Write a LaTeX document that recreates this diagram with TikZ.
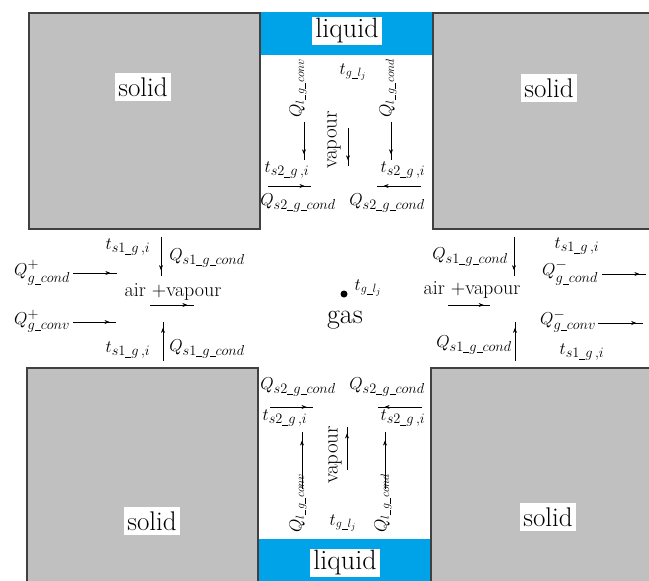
\documentclass[tikz,border=0pt]{standalone}
\usepackage{amsmath}
\usetikzlibrary{arrows.meta,decorations.markings}
\definecolor{solidgray}{RGB}{192,192,192}
\definecolor{edgegray}{RGB}{64,64,64}
\definecolor{liquidblue}{RGB}{0,162,232}
\newcommand{\us}{\text{\rule[-0.12em]{0.45em}{0.05em}}}
\begin{document}
\begin{tikzpicture}[x=1pt,y=-1pt,
 solidbox/.style={fill=solidgray,draw=edgegray,line width=1.2pt},
 liquidbox/.style={fill=liquidblue},
 biglabel/.style={fill=white,inner xsep=3pt,inner ysep=5pt,font=\fontsize{27}{29}\selectfont},
 liqlabel/.style={fill=white,inner xsep=3pt,inner ysep=2pt,font=\fontsize{28}{30}\selectfont},
 lab/.style={inner sep=0pt,font=\fontsize{19}{22}\selectfont},
 slab/.style={inner sep=0pt,font=\fontsize{18}{20}\selectfont},
 rlab/.style={inner sep=0pt,font=\fontsize{18}{20}\selectfont,rotate=90},
 vlab/.style={inner sep=0pt,font=\fontsize{21}{24}\selectfont,rotate=90},
 avlab/.style={inner sep=0pt,font=\fontsize{20}{22}\selectfont},
 flow/.style={line width=0.6pt,postaction={decorate},
   decoration={markings,mark=at position 0.85 with {\arrow{Stealth[length=5pt,width=4pt]}}}}
]
\useasboundingbox (0,0) rectangle (649,581);
% solids and liquids
\draw[solidbox] (29,13) rectangle (260,229);
\draw[solidbox] (433,13) rectangle (653,229);
\draw[solidbox] (27,368) rectangle (258,585);
\draw[solidbox] (431,368) rectangle (653,585);
\fill[liquidbox] (260.6,12.4) rectangle (432.4,55);
\fill[liquidbox] (258.6,539) rectangle (430.4,585);

\node[liqlabel] (liqT) at (347,31) {liquid};
\node[liqlabel] (liqB) at (345,563) {liquid};
\node[biglabel] (solTL) at (143,87) {solid};
\node[biglabel] (solTR) at (549,88) {solid};
\node[biglabel] (solBL) at (152,521) {solid};
\node[biglabel] (solBR) at (548,517) {solid};

% centre
\node[inner sep=0pt,font=\fontsize{28}{30}\selectfont] (gas) at (345,320) {gas};
\node[circle,fill,inner sep=0pt,minimum size=7pt] (dot) at (344,294) {};
\node[slab] (tgc) at (368,288) {$t_{g\us l_j}$};

% top channel
\node[rlab] (QlconvT) at (298,88) {$Q_{l\us g\us conv}$};
\node[slab] (tglT) at (353,72) {$t_{g\us l_j}$};
\node[vlab] (vapT) at (334,140) {vapour};
\node[rlab] (QlcondT) at (388,88) {$Q_{l\us g\us cond}$};
\coordinate (t1a) at (304,122); \coordinate (t1b) at (304,160);
\coordinate (t2a) at (348,128); \coordinate (t2b) at (348,166);
\coordinate (t3a) at (391,122); \coordinate (t3b) at (391,160);
\draw[flow] (t1a) -- (t1b);
\draw[flow] (t2a) -- (t2b);
\draw[flow] (t3a) -- (t3b);
\node[lab] (ts2TL) at (287,170) {$t_{s2\us g\,,i}$};
\node[lab] (ts2TR) at (403,170) {$t_{s2\us g\,,i}$};
\coordinate (t4a) at (268,186); \coordinate (t4b) at (311,186);
\coordinate (t5a) at (421,186); \coordinate (t5b) at (377,186);
\draw[flow] (t4a) -- (t4b);
\draw[flow] (t5a) -- (t5b);
\node[lab] (Qs2TL) at (298,203) {$Q_{s2\us g\us cond}$};
\node[lab] (Qs2TR) at (387,203) {$Q_{s2\us g\us cond}$};

% left passage
\node[lab] (ts1LT) at (128,247) {$t_{s1\us g\,,i}$};
\node[lab] (Qs1LT) at (207,258) {$Q_{s1\us g\us cond}$};
\coordinate (l1a) at (161,237); \coordinate (l1b) at (161,276);
\draw[flow] (l1a) -- (l1b);
\node[lab] (QpcondL) at (42,273) {$Q^{+}_{g\us cond}$};
\coordinate (l2a) at (73,273); \coordinate (l2b) at (117,273);
\draw[flow] (l2a) -- (l2b);
\node[avlab] (avL) at (173,292) {air +vapour};
\coordinate (l3a) at (150,305); \coordinate (l3b) at (194,305);
\draw[flow] (l3a) -- (l3b);
\node[lab] (QpconvL) at (42,321) {$Q^{+}_{g\us conv}$};
\coordinate (l4a) at (73,322); \coordinate (l4b) at (116,322);
\draw[flow] (l4a) -- (l4b);
\node[lab] (ts1LB) at (128,350) {$t_{s1\us g\,,i}$};
\node[lab] (Qs1LB) at (207,349) {$Q_{s1\us g\us cond}$};
\coordinate (l5a) at (163,361); \coordinate (l5b) at (163,322);
\draw[flow] (l5a) -- (l5b);

% right passage
\node[lab] (Qs1RT) at (470,257) {$Q_{s1\us g\us cond}$};
\coordinate (r1a) at (514,237); \coordinate (r1b) at (514,276);
\draw[flow] (r1a) -- (r1b);
\node[lab] (ts1RT) at (577,246) {$t_{s1\us g\,,i}$};
\node[lab] (QmcondR) at (570,273) {$Q^{-}_{g\us cond}$};
\coordinate (r2a) at (602,274); \coordinate (r2b) at (646,274);
\draw[flow] (r2a) -- (r2b);
\node[avlab] (avR) at (472,290) {air +vapour};
\coordinate (r3a) at (448,305); \coordinate (r3b) at (490,305);
\draw[flow] (r3a) -- (r3b);
\node[lab] (QmconvR) at (568,321) {$Q^{-}_{g\us conv}$};
\coordinate (r4a) at (598,323); \coordinate (r4b) at (643,323);
\draw[flow] (r4a) -- (r4b);
\node[lab] (Qs1RB) at (474,345) {$Q_{s1\us g\us cond}$};
\coordinate (r5a) at (515,361); \coordinate (r5b) at (515,322);
\draw[flow] (r5a) -- (r5b);
\node[lab] (ts1RB) at (582,352) {$t_{s1\us g\,,i}$};

% bottom channel
\node[lab] (Qs2BL) at (298,387) {$Q_{s2\us g\us cond}$};
\node[lab] (Qs2BR) at (387,387) {$Q_{s2\us g\us cond}$};
\coordinate (b1a) at (270,407); \coordinate (b1b) at (313,407);
\coordinate (b2a) at (422,407); \coordinate (b2b) at (378,407);
\draw[flow] (b1a) -- (b1b);
\draw[flow] (b2a) -- (b2b);
\node[lab] (ts2BL) at (285,418) {$t_{s2\us g\,,i}$};
\node[lab] (ts2BR) at (403,418) {$t_{s2\us g\,,i}$};
\coordinate (b3a) at (302,489); \coordinate (b3b) at (302,432);
\coordinate (b4a) at (347,470); \coordinate (b4b) at (347,427);
\coordinate (b5a) at (385,489); \coordinate (b5b) at (385,432);
\draw[flow] (b3a) -- (b3b);
\draw[flow] (b4a) -- (b4b);
\draw[flow] (b5a) -- (b5b);
\node[vlab] (vapB) at (335,455) {vapour};
\node[rlab] (QlconvB) at (298,503) {$Q_{l\us g\us conv}$};
\node[rlab] (QlcondB) at (383,503) {$Q_{l\us g\us cond}$};
\node[slab] (tglB) at (343,523) {$t_{g\us l_j}$};
\end{tikzpicture}
\end{document}
